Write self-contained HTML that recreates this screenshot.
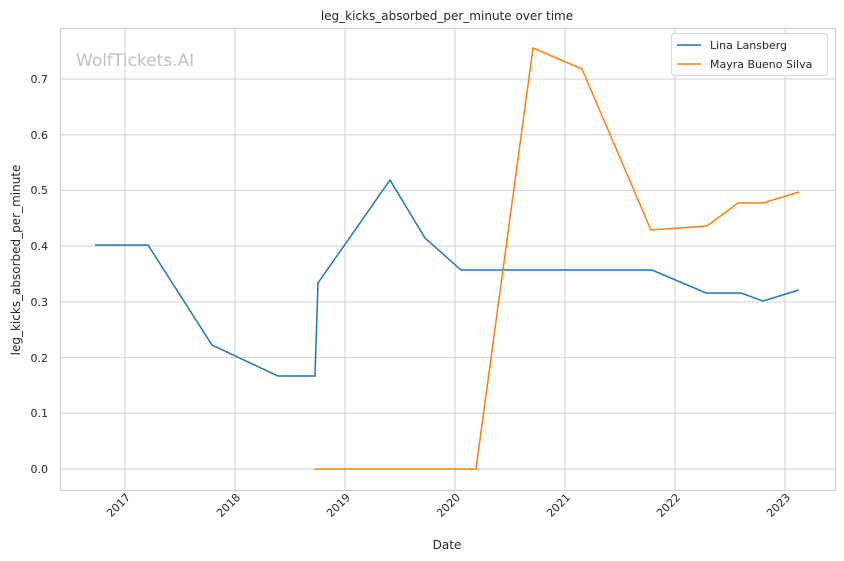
<!DOCTYPE html>
<html><head><style>body{margin:0;background:#fff}svg{display:block;font-family:"DejaVu Sans","Liberation Sans",sans-serif}</style></head><body>
<svg width="844" height="561" xmlns="http://www.w3.org/2000/svg">
<rect width="844" height="561" fill="#fff"/>
<g stroke="#d0d0d0" stroke-width="1">
<line x1="125" y1="28" x2="125" y2="490"/><line x1="235" y1="28" x2="235" y2="490"/><line x1="345" y1="28" x2="345" y2="490"/><line x1="455" y1="28" x2="455" y2="490"/><line x1="565" y1="28" x2="565" y2="490"/><line x1="675" y1="28" x2="675" y2="490"/><line x1="785" y1="28" x2="785" y2="490"/>
<line x1="60" y1="469" x2="835" y2="469"/><line x1="60" y1="413.3" x2="835" y2="413.3"/><line x1="60" y1="357.6" x2="835" y2="357.6"/><line x1="60" y1="301.9" x2="835" y2="301.9"/><line x1="60" y1="246.1" x2="835" y2="246.1"/><line x1="60" y1="190.4" x2="835" y2="190.4"/><line x1="60" y1="134.7" x2="835" y2="134.7"/><line x1="60" y1="79" x2="835" y2="79"/>
</g>
<rect x="60.5" y="28.5" width="775" height="462" fill="none" stroke="#cccccc"/>
<text x="76" y="66" font-size="17" fill="#c0c0c0">WolfTickets.AI</text>
<polyline fill="none" stroke="#1f77b4" stroke-width="1.5" points="95,245 148,245 212,345 278,376 315,376 318,283 390,180 425,238 461,270 652,270 706,293 741,293 763,301 799,290"/>
<polyline fill="none" stroke="#ff7f0e" stroke-width="1.5" points="314,469 476,469 533,48 582,69 651,230 707,226 738,203 763,203 799,192"/>
<g font-size="11" fill="#262626" text-anchor="end">
<text x="48" y="473">0.0</text><text x="48" y="417">0.1</text><text x="48" y="362">0.2</text><text x="48" y="306">0.3</text><text x="48" y="250">0.4</text><text x="48" y="194">0.5</text><text x="48" y="139">0.6</text><text x="48" y="83">0.7</text>
</g>
<g font-size="11" fill="#262626" text-anchor="end">
<text transform="translate(131,498) rotate(-45)">2017</text><text transform="translate(241,498) rotate(-45)">2018</text><text transform="translate(351,498) rotate(-45)">2019</text><text transform="translate(461,498) rotate(-45)">2020</text><text transform="translate(571,498) rotate(-45)">2021</text><text transform="translate(681,498) rotate(-45)">2022</text><text transform="translate(791,498) rotate(-45)">2023</text>
</g>
<text x="447" y="549" font-size="12" fill="#262626" text-anchor="middle">Date</text>
<text transform="translate(20,260) rotate(-90)" font-size="12" fill="#262626" text-anchor="middle">leg_kicks_absorbed_per_minute</text>
<text x="447" y="20" font-size="12" fill="#262626" text-anchor="middle">leg_kicks_absorbed_per_minute over time</text>
<rect x="671.5" y="33.5" width="156" height="42" rx="3" fill="#fff" stroke="#d8d8d8"/>
<line x1="677" y1="45" x2="701" y2="45" stroke="#1f77b4" stroke-width="1.5"/>
<line x1="677" y1="64" x2="701" y2="64" stroke="#ff7f0e" stroke-width="1.5"/>
<text x="710" y="49" font-size="11" fill="#262626">Lina Lansberg</text>
<text x="710" y="68" font-size="11" fill="#262626">Mayra Bueno Silva</text>
</svg>
</body></html>
